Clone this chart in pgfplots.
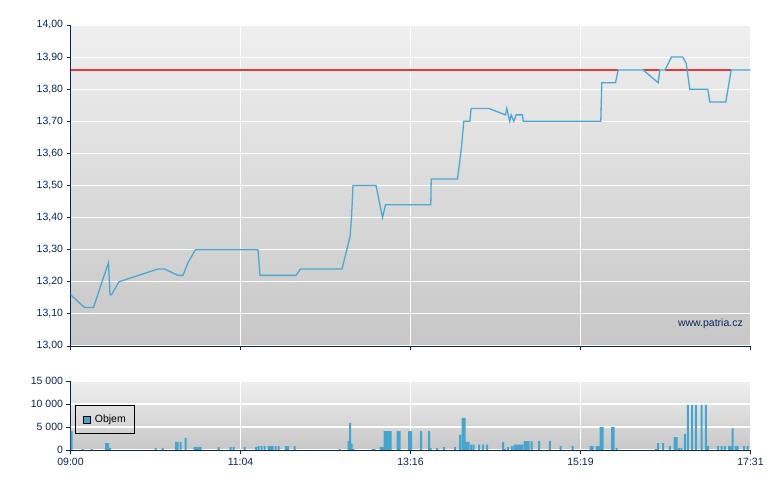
\documentclass[border=0pt]{standalone}
\usepackage{pgfplots}
\pgfplotsset{compat=1.18}
\usepackage{fontspec}
\setmainfont{Liberation Sans}

\definecolor{navy}{HTML}{0A2458}
\definecolor{lineblue}{HTML}{4AA8D2}
\definecolor{barblue}{HTML}{45A5CF}
\definecolor{redline}{HTML}{E23A3A}
\definecolor{bgtop}{HTML}{EFEFEF}
\definecolor{bgbot}{HTML}{C7C7C7}

\pgfplotsset{
  panel/.style={
    scale only axis, width=680bp,
    xmin=0, xmax=680,
    axis x line*=bottom, axis y line*=left,
    axis line style={navy, line width=0.9pt},
    tick style={navy, line width=0.9pt},
    tick align=outside, major tick length=4bp,
    grid=major, grid style={white, line width=1.1pt},
    xtick={0,170,340,510,680},
    scaled ticks=false,
    ticklabel style={font=\fontsize{10.5bp}{12bp}\selectfont, text=navy},
    xticklabel style={yshift=-1bp},
    axis background/.style={shade, top color=bgtop, bottom color=bgbot},
  },
}

\begin{document}
\begin{tikzpicture}
\useasboundingbox (0,0) rectangle (780bp,490bp);

% price panel
\begin{axis}[panel,
  at={(70.5bp,144bp)}, anchor=south west, height=321bp,
  ymin=13, ymax=14,
  ytick={13,13.1,13.2,13.3,13.4,13.5,13.6,13.7,13.8,13.9,14},
  yticklabels={{13,00},{13,10},{13,20},{13,30},{13,40},{13,50},{13,60},{13,70},{13,80},{13,90},{14,00}},
  xticklabels={},
  unbounded coords=jump,
]
% previous close level (left out where the price sits on it)
\addplot[redline, line width=1.3pt, no marks] coordinates {
  (0,13.86) (547.7,13.86) (560,nan) (572.7,13.86) (589.3,13.86) (592,nan) (594.5,13.86) (660.7,13.86)};
\addplot[lineblue, line width=1.3pt, no marks] coordinates {
  (0,13.16) (14,13.12) (23,13.12) (38,13.26) (39.5,13.16) (41,13.16)
  (48.5,13.20) (87.5,13.24) (94,13.24) (107.5,13.22) (112.5,13.22)
  (117.5,13.26) (125,13.30) (187.5,13.30) (189.5,13.22) (225.5,13.22)
  (230,13.24) (271.5,13.24) (279.5,13.34) (281,13.40) (282.5,13.50)
  (305.5,13.50) (312,13.40) (315,13.44) (360.3,13.44) (360.7,13.52)
  (387,13.52) (391,13.62) (393.3,13.70) (399.3,13.70) (400.7,13.74)
  (418.3,13.74) (435,13.72) (436.3,13.74) (439.3,13.70) (440.7,13.72)
  (443.3,13.70) (445.7,13.72) (452,13.72) (452.7,13.70) (530.3,13.70)
  (531.3,13.82) (545,13.82) (547.7,13.86) (572.7,13.86) (587.7,13.82)
  (589.3,13.86) (594.5,13.86) (601,13.90) (612.3,13.90) (615.7,13.88)
  (619.3,13.80) (637.3,13.80) (639.3,13.76) (655.3,13.76) (660.7,13.86)
  (680,13.86)
};
\node[anchor=east, inner sep=0pt, text=navy, font=\fontsize{10.5bp}{12bp}\selectfont]
  at (axis cs:672.5,13.069) {www.patria.cz};
\end{axis}

% volume panel
\begin{axis}[panel,
  at={(70.5bp,40bp)}, anchor=south west, height=69bp,
  ymin=0, ymax=15000,
  ytick={0,5000,10000,15000},
  yticklabels={0,5 000,10 000,15 000},
  xticklabels={09:00,11:04,13:16,15:19,17:31},
  legend style={at={(rel axis cs:0.007,0.652)}, anchor=north west,
    draw=black, fill=none, line width=0.6pt,
    font=\fontsize{10.5bp}{12bp}\selectfont, text=black,
    inner xsep=7bp, inner ysep=7.5bp},
  legend image code/.code={
    \draw[fill=barblue, draw=black, line width=0.6pt] (1bp,-3.5bp) rectangle (8bp,3.5bp);
    \path (11bp,0bp);},
]
\addplot[ybar, bar width=2, bar shift=0, fill=barblue, draw=none] coordinates {
  (1,4100) (12,200) (21,200) (35.5,1500) (37.5,1500) (39.5,450)
  (85,450) (92,450) (105.5,1750) (107,1750) (110,1750) (115,2600)
  (124,650) (126,650) (128,650) (130,650) (148,650) (160,650) (163,650)
  (174,650) (185.5,650) (188,850) (191,850) (194,850) (198,850) (200,850)
  (202,850) (205,850) (208,850) (215.5,850) (217.5,850) (224,850)
  (269,200) (278,2000) (279.5,5900) (281,1400) (283,200)
  (302,200) (304,200) (310,650) (312,650)
  (314,4100) (316,4100) (318,4100) (320,4100) (327,4100) (329,4100)
  (338.5,4100) (340.5,4100) (350.5,4100) (358.5,4100) (360,400)
  (366.5,400) (373.5,650) (384.6,650) (389.5,3300) (392,7000) (394,7000)
  (396,1750) (398,1750) (400.5,1150) (403,1150) (408.6,1150) (412.6,1150)
  (416.5,1150) (432.6,1750) (434.3,200) (437.6,650) (441.6,850)
  (444,1150) (446,1150) (448,1150) (450,1150) (451.5,1150)
  (454,1950) (456,1950) (458,1950) (461,1950) (468.6,1950) (479.3,1950)
  (490,850) (502,850) (520,850) (522,850) (526,850) (528,850)
  (530,5000) (532,5000) (541.5,5000) (543,5000) (546,400)
  (585.3,200) (587.6,1500) (592.6,1500) (599.3,850) (604,2800) (606,2800)
  (608.5,400) (611,400) (614.3,3500) (617.3,9800) (621.6,9800)
  (625.3,9800) (631,9800) (635.3,9800) (637.6,850) (647.6,850)
  (651,850) (654.3,850) (658.5,850) (660.5,850) (662,4700) (665,850)
  (667,850) (673.6,850) (677,850)
};
\addlegendentry{Objem}
\end{axis}
\end{tikzpicture}
\end{document}
